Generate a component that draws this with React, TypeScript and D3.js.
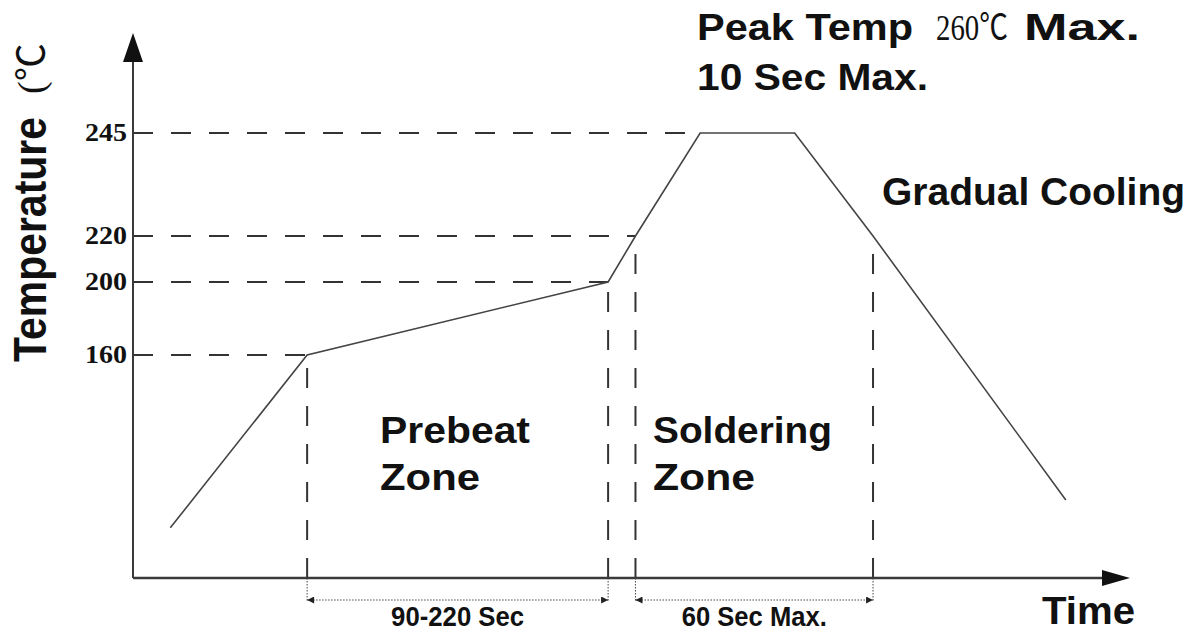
import React from "react";
import * as d3 from "d3";

// ---- data ----
const profileTime = [15, 70, 191, 202, 228, 266, 297.5, 375]; // seconds (schematic)
const profileTemp = [36, 160, 200, 220, 245, 245, 220, 56]; // °C
const tickTemps = [160, 200, 220, 245];
const guideTimes = [70, 191, 202, 228]; // time where each tick temp is first reached
const zoneBoundaries = [70, 191, 202, 297.5];
const zoneSpans = [
  { from: 70, to: 191, label: "90-220 Sec", len: 133 },
  { from: 202, to: 297.5, label: "60 Sec Max.", len: 145 },
];

const W = 1193;
const H = 633;

const x = d3.scaleLinear().domain([0, 400]).range([133, 1128]);
// schematic (piecewise) temperature axis
const y = d3.scaleLinear().domain([0, 160, 200, 220, 245]).range([578, 355, 282, 236, 133]);

const sans = "'Liberation Sans', Arial, sans-serif";
const serif = "'Liberation Serif', 'Times New Roman', 'Noto Sans CJK SC', serif";

export default function App() {
  const pts: [number, number][] = profileTime.map((t, i) => [t, profileTemp[i]]);
  const line = d3
    .line<[number, number]>()
    .x((d) => x(d[0]))
    .y((d) => y(d[1]));
  const x0 = x(0);
  const y0 = y(0);
  const dash = "20 18";
  const axisCol = "#3a3a3a";
  return (
    <svg width={W} height={H} style={{ position: "absolute", left: 0, top: 0, background: "#fff" }}>
      <defs>
        <marker id="ah" viewBox="0 0 10 10" refX="10" refY="5" markerWidth="11" markerHeight="7" orient="auto-start-reverse" markerUnits="userSpaceOnUse">
          <path d="M0,0 L10,5 L0,10 z" fill="#222" />
        </marker>
      </defs>

      {/* horizontal dashed guides */}
      {tickTemps.map((t, i) => (
        <line key={"h" + t} x1={x0} x2={x(guideTimes[i])} y1={y(t)} y2={y(t)} stroke="#333" strokeWidth={2} strokeDasharray={dash} />
      ))}
      {/* vertical dashed guides */}
      {zoneBoundaries.map((t) => {
        const idx = profileTime.indexOf(t);
        return (
          <line key={"v" + t} x1={x(t)} x2={x(t)} y1={y0} y2={y(profileTemp[idx])} stroke="#333" strokeWidth={2} strokeDasharray={dash} />
        );
      })}
      {/* dotted extensions below axis */}
      {zoneBoundaries.map((t) => (
        <line key={"d" + t} x1={x(t)} x2={x(t)} y1={y0} y2={y0 + 24} stroke="#444" strokeWidth={1} strokeDasharray="1.5 1.5" />
      ))}
      {zoneSpans.map((z) => (
        <g key={z.label}>
          <line x1={x(z.from)} x2={x(z.to)} y1={y0 + 22} y2={y0 + 22} stroke="#444" strokeWidth={1} strokeDasharray="1.5 1.5" markerStart="url(#ah)" markerEnd="url(#ah)" />
          <text x={(x(z.from) + x(z.to)) / 2} y={y0 + 48} textAnchor="middle" fontFamily={sans} fontWeight="bold" fontSize={27} textLength={z.len} lengthAdjust="spacingAndGlyphs" fill="#111">
            {z.label}
          </text>
        </g>
      ))}

      {/* axes */}
      <line x1={x0} x2={x0} y1={y0} y2={58} stroke={axisCol} strokeWidth={2} />
      <path d={`M${x0 - 10},${62} L${x0},${33} L${x0 + 10},${62} z`} fill="#111" />
      <line x1={x0} x2={1105} y1={y0} y2={y0} stroke={axisCol} strokeWidth={2.5} />
      <path d={`M1102,${y0 - 8} L1130,${y0} L1102,${y0 + 8} z`} fill="#111" />

      {/* tick labels */}
      {tickTemps.map((t) => (
        <text key={"t" + t} x={127} y={y(t) + 8} textAnchor="end" fontFamily={serif} fontWeight="bold" fontSize={25} textLength={42} lengthAdjust="spacingAndGlyphs" fill="#111">
          {t}
        </text>
      ))}

      {/* profile */}
      <path d={line(pts) || ""} fill="none" stroke="#444" strokeWidth={1.6} />

      {/* y title */}
      <g transform="translate(46,362) rotate(-90)">
        <text x={0} y={0} fontFamily={sans} fontWeight="bold" fontSize={46} textLength={245} lengthAdjust="spacingAndGlyphs" fill="#111">
          Temperature
        </text>
      </g>
      <g transform="translate(44,94) rotate(-90)">
        <text x={0} y={0} fontFamily={serif} fontSize={38} fill="#111">
          (℃
        </text>
      </g>

      {/* annotations */}
      <text x={697} y={40} fontFamily={sans} fontWeight="bold" fontSize={37} textLength={216} lengthAdjust="spacingAndGlyphs" fill="#111">
        Peak Temp
      </text>
      <text x={936} y={40} fontFamily={serif} fontSize={36} textLength={72} lengthAdjust="spacingAndGlyphs" fill="#111">
        260℃
      </text>
      <text x={1024} y={40} fontFamily={sans} fontWeight="bold" fontSize={37} textLength={116} lengthAdjust="spacingAndGlyphs" fill="#111">
        Max.
      </text>
      <text x={697} y={90} fontFamily={sans} fontWeight="bold" fontSize={37} textLength={231} lengthAdjust="spacingAndGlyphs" fill="#111">
        10 Sec Max.
      </text>
      <text x={882} y={205} fontFamily={sans} fontWeight="bold" fontSize={38} textLength={303} lengthAdjust="spacingAndGlyphs" fill="#111">
        Gradual Cooling
      </text>
      <text x={380} y={443} fontFamily={sans} fontWeight="bold" fontSize={36} textLength={150} lengthAdjust="spacingAndGlyphs" fill="#111">
        Prebeat
      </text>
      <text x={380} y={490} fontFamily={sans} fontWeight="bold" fontSize={36} textLength={100} lengthAdjust="spacingAndGlyphs" fill="#111">
        Zone
      </text>
      <text x={653} y={443} fontFamily={sans} fontWeight="bold" fontSize={36} textLength={179} lengthAdjust="spacingAndGlyphs" fill="#111">
        Soldering
      </text>
      <text x={653} y={490} fontFamily={sans} fontWeight="bold" fontSize={36} textLength={102} lengthAdjust="spacingAndGlyphs" fill="#111">
        Zone
      </text>
      <text x={1042} y={624} fontFamily={sans} fontWeight="bold" fontSize={38} textLength={93} lengthAdjust="spacingAndGlyphs" fill="#111">
        Time
      </text>
    </svg>
  );
}
